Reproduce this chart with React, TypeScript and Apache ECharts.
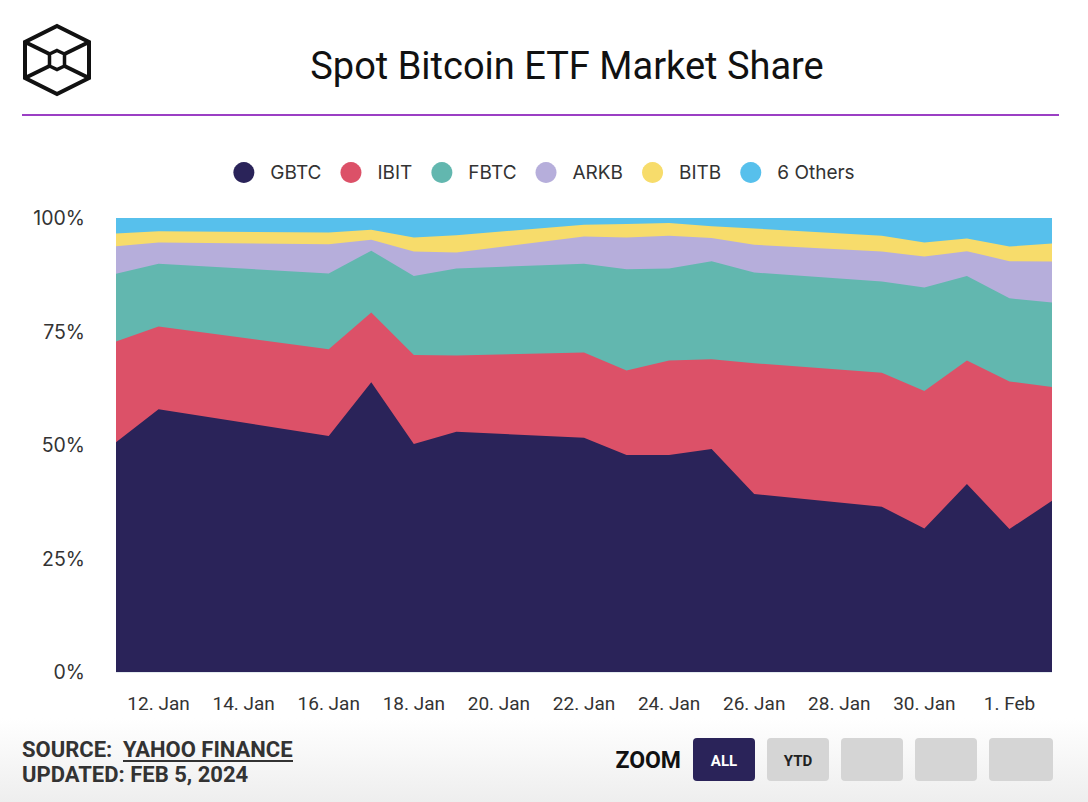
import React, { useEffect, useRef } from "react";
import * as echarts from "echarts";

const dates = [
  "2024-01-11", "2024-01-12", "2024-01-16", "2024-01-17", "2024-01-18", "2024-01-19",
  "2024-01-22", "2024-01-23", "2024-01-24", "2024-01-25", "2024-01-26", "2024-01-29",
  "2024-01-30", "2024-01-31", "2024-02-01", "2024-02-02",
];
const gbtc = [50.6, 57.9, 52.0, 63.8, 50.2, 52.9, 51.6, 47.8, 47.8, 49.1, 39.2, 36.4, 31.6, 41.4, 31.5, 37.7];
const ibit = [22.2, 18.2, 19.1, 15.4, 19.6, 16.8, 18.8, 18.6, 20.8, 19.8, 28.8, 29.5, 30.3, 27.2, 32.5, 25.1];
const fbtc = [14.9, 13.8, 16.7, 13.6, 17.4, 19.2, 19.5, 22.3, 20.3, 21.6, 20.0, 20.1, 22.8, 18.6, 18.3, 18.6];
const arkb = [6.1, 4.7, 6.4, 2.4, 5.4, 3.5, 6.0, 7.0, 7.2, 5.1, 6.1, 6.6, 6.8, 5.5, 8.2, 9.0];
const bitb = [2.8, 2.5, 2.6, 2.2, 3.1, 3.8, 2.6, 3.0, 2.8, 2.6, 3.6, 3.5, 3.1, 2.8, 3.2, 4.0];
const others = [3.4, 2.9, 3.2, 2.6, 4.3, 3.8, 1.5, 1.3, 1.1, 1.8, 2.3, 3.9, 5.4, 4.5, 6.3, 5.6];

const seriesNames = ["GBTC", "IBIT", "FBTC", "ARKB", "BITB", "6 Others"];
const seriesColors = ["#2a2359", "#dc5168", "#62b7af", "#b6aedb", "#f7dc6b", "#57c0ec"];
const seriesValues = [gbtc, ibit, fbtc, arkb, bitb, others];

const xTickDates = [
  "2024-01-12", "2024-01-14", "2024-01-16", "2024-01-18", "2024-01-20", "2024-01-22",
  "2024-01-24", "2024-01-26", "2024-01-28", "2024-01-30", "2024-02-01",
];
const yTicks = [0, 25, 50, 75, 100];
const monthNames = ["Jan", "Feb", "Mar", "Apr", "May", "Jun", "Jul", "Aug", "Sep", "Oct", "Nov", "Dec"];

const BASE = Date.UTC(2024, 0, 0);
function dayNum(s: string): number {
  const [y, m, d] = s.split("-").map(Number);
  return Math.round((Date.UTC(y, m - 1, d) - BASE) / 86400000);
}
function dayLabel(v: number): string {
  const dt = new Date(BASE + Math.round(v) * 86400000);
  return dt.getUTCDate() + ". " + monthNames[dt.getUTCMonth()];
}

export default function App() {
  const ref = useRef<HTMLDivElement>(null);
  useEffect(() => {
    if (!ref.current) return;
    const chart = echarts.init(ref.current, undefined, { renderer: "svg" });
    const xs = dates.map(dayNum);

    // cumulative tops of each stacked band (stacking computed from the series arrays)
    const cumulative: number[][] = [];
    seriesValues.forEach((vals, i) => {
      cumulative.push(vals.map((v, j) => (i === 0 ? 0 : cumulative[i - 1][j]) + v));
    });

    const stroke = "#111111";
    const lw = 4;
    const outer = [[57, 26], [89, 42], [89, 78], [57, 94], [25, 78], [25, 42]];
    const inner = [[57, 50.5], [64.5, 54], [64.5, 66], [57, 69.5], [49.5, 66], [49.5, 54]];
    const logo: any[] = [
      { type: "polygon", shape: { points: outer }, style: { fill: "none", stroke, lineWidth: lw, lineJoin: "miter" } },
      { type: "polygon", shape: { points: inner }, style: { fill: "none", stroke, lineWidth: lw - 0.5 } },
      { type: "line", shape: { x1: 25, y1: 42, x2: 49.5, y2: 54 }, style: { stroke, lineWidth: lw } },
      { type: "line", shape: { x1: 89, y1: 42, x2: 64.5, y2: 54 }, style: { stroke, lineWidth: lw } },
      { type: "line", shape: { x1: 25, y1: 78, x2: 49.5, y2: 66 }, style: { stroke, lineWidth: lw } },
      { type: "line", shape: { x1: 89, y1: 78, x2: 64.5, y2: 66 }, style: { stroke, lineWidth: lw } },
    ];
    const btnY = 738, btnH = 43;
    const buttons = [
      { x: 693, w: 62, fill: "#2a2359", text: "ALL", color: "#ffffff" },
      { x: 767, w: 62, fill: "#d5d5d5", text: "YTD", color: "#222222" },
      { x: 841, w: 62, fill: "#d5d5d5", text: "", color: "#222222" },
      { x: 915, w: 62, fill: "#d5d5d5", text: "", color: "#222222" },
      { x: 989, w: 64, fill: "#d5d5d5", text: "", color: "#222222" },
    ];
    const btnEls: any[] = [];
    buttons.forEach((b) => {
      btnEls.push({ type: "rect", shape: { x: b.x, y: btnY, width: b.w, height: btnH, r: 4 }, style: { fill: b.fill } });
      if (b.text) {
        btnEls.push({
          type: "text", x: b.x + b.w / 2, y: btnY + btnH / 2 + 1,
          style: { text: b.text, fill: b.color, font: "bold 15px Roboto", textAlign: "center", textVerticalAlign: "middle" },
        });
      }
    });

    // draw top band first so that lower bands are painted over it
    const order = seriesNames.map((_, i) => i).reverse();

    chart.setOption({
      animation: false,
      backgroundColor: "#ffffff",
      title: {
        text: "Spot Bitcoin ETF Market Share",
        left: 562, top: 42, textAlign: "center",
        textStyle: { fontFamily: "Roboto", fontWeight: "normal", fontSize: 38, color: "#111111" },
      },
      legend: {
        top: 157, left: "center",
        icon: "circle", itemWidth: 21, itemHeight: 21, itemGap: 19,
        textStyle: { fontFamily: "Inter", fontSize: 19, color: "#333333", padding: [0, 0, 0, 11] },
        data: seriesNames,
      },
      grid: { left: 116, right: 36, top: 218, bottom: 130 },
      xAxis: {
        type: "value",
        min: xs[0], max: xs[xs.length - 1],
        axisLine: { show: false }, axisTick: { show: false }, splitLine: { show: false },
        axisLabel: {
          customValues: xTickDates.map(dayNum),
          formatter: (v: number) => dayLabel(v),
          fontFamily: "Roboto", fontSize: 19, color: "#333333", margin: 22,
        },
      },
      yAxis: {
        type: "value", min: 0, max: 100, interval: 25,
        axisLine: { show: false }, axisTick: { show: false },
        splitLine: { show: true, lineStyle: { color: "#e3ebef", width: 1 } },
        axisLabel: {
          customValues: yTicks,
          formatter: (v: number) => v + "%",
          fontFamily: "Inter", fontSize: 19.5, color: "#333333", margin: 31,
        },
      },
      series: order.map((i) => ({
        name: seriesNames[i],
        type: "line",
        data: xs.map((x, j) => [x, cumulative[i][j]]),
        symbol: "none",
        showSymbol: false,
        lineStyle: { width: 0 },
        areaStyle: { color: seriesColors[i], opacity: 1, origin: "start" },
        itemStyle: { color: seriesColors[i] },
        emphasis: { disabled: true },
      })),
      graphic: [
        {
          type: "rect", z: -10, shape: { x: 0, y: 718, width: 1088, height: 84 },
          style: {
            fill: new echarts.graphic.LinearGradient(0, 0, 0, 1, [
              { offset: 0, color: "#ffffff" },
              { offset: 1, color: "#eeeeee" },
            ]),
          },
        },
        ...logo,
        { type: "line", shape: { x1: 22, y1: 115, x2: 1059, y2: 115 }, style: { stroke: "#9b3fc4", lineWidth: 2 } },
        {
          type: "text", x: 22, y: 749,
          style: { text: "SOURCE:", fill: "#333333", font: "bold 22px Roboto", textVerticalAlign: "middle" },
        },
        {
          type: "text", x: 123, y: 749,
          style: { text: "YAHOO FINANCE", fill: "#333333", font: "bold 22px Roboto", textVerticalAlign: "middle" },
        },
        { type: "line", shape: { x1: 123, y1: 761, x2: 293, y2: 761 }, style: { stroke: "#333333", lineWidth: 2 } },
        {
          type: "text", x: 22, y: 774,
          style: { text: "UPDATED: FEB 5, 2024", fill: "#333333", font: "bold 22px Roboto", textVerticalAlign: "middle" },
        },
        {
          type: "text", x: 681, y: 760,
          style: { text: "ZOOM", fill: "#111111", font: "bold 23px Roboto", textAlign: "right", textVerticalAlign: "middle" },
        },
        ...btnEls,
      ],
    });
    return () => chart.dispose();
  }, []);
  return <div ref={ref} style={{ position: "absolute", left: 0, top: 0, width: 1088, height: 802 }} />;
}
